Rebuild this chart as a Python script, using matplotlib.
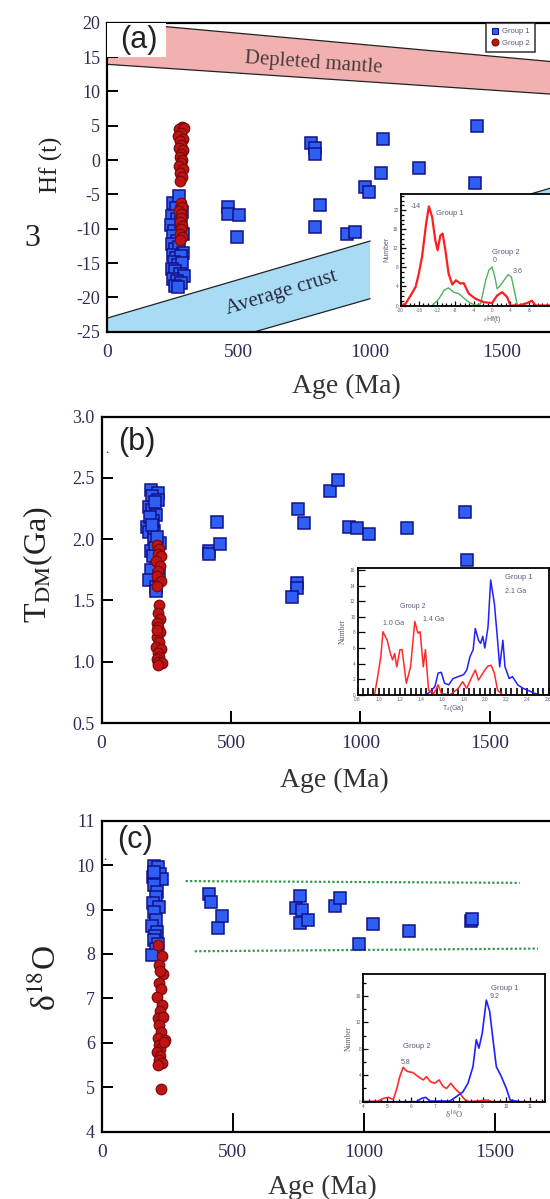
import matplotlib
matplotlib.use("Agg")
import matplotlib.pyplot as plt
from matplotlib.patches import Polygon, Rectangle
from matplotlib.lines import Line2D
from matplotlib.ticker import MultipleLocator

plt.rcParams['font.family'] = ['Liberation Serif', 'DejaVu Serif']
plt.rcParams['mathtext.fontset'] = 'stix'
plt.rcParams['axes.unicode_minus'] = False

# ---------------- data ----------------
# (a) epsilon Hf(t) vs age
a_g1_age = [460, 460, 500, 494, 774, 791, 791, 810, 791, 911, 943, 981, 998, 1041, 1050, 1187, 1405, 1401,
            250, 272, 262, 248, 266, 285, 244, 256, 280, 252, 268, 290, 246, 258, 274, 288, 250, 262, 280,
            254, 270, 286, 248, 260, 276, 291, 252, 266, 280, 258, 270]
a_g1_ehf = [-6.8, -7.8, -8.0, -11.2, 2.5, 1.7, 0.9, -6.5, -9.8, -10.7, -10.5, -4.0, -4.6, -1.9, 3.0, -1.1, 5.0, -3.4,
            -6.2, -5.2, -7.0, -8.1, -8.6, -7.6, -9.4, -10.3, -9.0, -11.0, -11.8, -10.8, -12.3, -12.9, -12.6,
            -13.5, -13.8, -14.2, -14.0, -14.8, -15.3, -15.0, -15.8, -16.2, -16.6, -16.9, -17.3, -17.6, -17.9,
            -18.3, -18.5]
a_g2_age = [285, 275, 292, 280, 270, 288, 278, 283, 272, 290, 280, 276, 286, 282, 274, 288, 279, 284, 277,
            281, 285, 275, 283, 280, 278, 286, 282, 279, 284, 276]
a_g2_ehf = [4.8, 4.5, 4.6, 3.9, 3.5, 3.0, 2.7, 2.2, 1.7, 1.4, 0.9, 0.5, 0.0, -0.4, -0.9, -1.3, -1.9, -2.5,
            -3.1, -6.2, -6.8, -7.4, -7.9, -8.4, -9.0, -9.6, -10.1, -10.7, -11.2, -11.6]

# reference evolution bands (age, eHf) end points
dm_top = [(0, 20.2), (2000, 13.26)]
dm_bot = [(0, 13.94), (2000, 8.80)]
crust_top_slope, crust_top_icpt = 0.01123, -23.03
crust_bot_slope, crust_bot_icpt = 0.01098, -31.18

# (a) inset: eHf(t) distribution
ia_red_x = [-20, -18.9, -17.8, -16.7, -16.0, -15.3, -14.4, -13.8, -13.1, -12.4, -11.9, -11.3, -10.8, -10.2,
            -9.5, -8.7, -7.9, -6.9, -6.2, -5.1, -3.6, -1.8, 0.0, 1.1, 2.2, 3.3, 4.0, 5.8, 7.6, 8.7, 9.5, 12.4, 20]
ia_red_y = [0, 0.35, 2.1, 3.9, 6.7, 10.2, 17.2, 20.8, 18.6, 13.7, 11.6, 14.7, 15.1, 11.6, 6.7, 4.4, 5.3,
            4.6, 4.7, 2.5, 1.4, 0.7, 0.5, 2.1, 2.8, 1.75, 0, 0, 0.5, 1.0, 0, 0, 0]
ia_grn_x = [-13.1, -11.6, -10.5, -9.5, -8.4, -7.3, -6.2, -5.1, -3.6, -2.5, -1.4, -0.7, 0.0, 0.6, 1.1, 1.8,
            2.6, 3.5, 4.2, 5.0, 5.5, 7.0]
ia_grn_y = [0, 1.4, 3.2, 3.7, 2.8, 2.5, 1.6, 0.7, 0, 0.35, 5.3, 7.4, 8.1, 6.0, 3.5, 4.2, 5.3, 6.5, 6.0, 2.5,
            0, 0]
ia_xticks = [-20, -16, -12, -8, -4, 0, 4, 8]
ia_yticks = [0, 4, 8, 12, 16, 20]

# (b) T_DM vs age
b_g1_age = [414, 416, 445, 459, 760, 780, 756, 756, 735, 884, 915, 956, 987, 1031, 1180, 1403, 1410,
            191, 218, 194, 184, 194, 218, 211, 177, 184, 204, 201, 224, 191, 211, 191, 184, 211, 211, 205,
            198, 215, 188, 207, 200, 222, 195]
b_g1_tdm = [1.905, 1.88, 2.14, 1.96, 2.25, 2.13, 1.64, 1.60, 1.53, 2.39, 2.48, 2.10, 2.09, 2.04, 2.09, 2.22,
            1.83, 2.40, 2.38, 2.35, 2.26, 2.24, 2.32, 2.20, 2.10, 2.06, 2.07, 1.99, 1.97, 1.90, 1.82, 1.75,
            1.67, 1.61, 1.58, 2.30, 2.15, 2.02, 2.18, 1.93, 1.86, 1.70, 2.12]
b_g2_age = [215, 222, 218, 228, 212, 225, 220, 216, 230, 214, 221, 218, 226, 213, 219, 224, 216, 222, 211,
            228, 217, 223, 214, 220, 232, 218, 215]
b_g2_tdm = [1.95, 1.92, 1.88, 1.86, 1.82, 1.78, 1.74, 1.70, 1.66, 1.62, 1.46, 1.40, 1.35, 1.32, 1.28, 1.24,
            1.20, 1.16, 1.12, 1.10, 1.07, 1.04, 1.02, 1.00, 0.99, 0.97, 1.26]

# (b) inset: T_DM distribution
ib_blue_x = [1.44, 1.485, 1.53, 1.56, 1.59, 1.62, 1.66, 1.70, 1.75, 1.80, 1.83, 1.86, 1.89, 1.91, 1.94,
             1.96, 1.98, 2.00, 2.03, 2.055, 2.09, 2.12, 2.14, 2.17, 2.19, 2.23, 2.26, 2.31, 2.36, 2.40, 2.47,
             2.53, 2.6]
ib_blue_y = [0, 0.4, 1.1, 2.8, 2.9, 1.5, 1.3, 2.1, 2.35, 2.6, 3.2, 4.9, 5.8, 8.5, 7.0, 6.6, 7.5, 6.0, 8.7,
             14.7, 11.7, 7.0, 3.6, 7.0, 3.6, 2.1, 2.35, 1.3, 0.85, 0.64, 0.2, 0, 0]
ib_red_x = [0.82, 0.96, 0.99, 1.02, 1.04, 1.08, 1.11, 1.13, 1.15, 1.17, 1.20, 1.22, 1.26, 1.30, 1.34, 1.37,
            1.39, 1.42, 1.44, 1.47, 1.52, 1.56, 1.59, 1.67, 1.75, 1.79, 1.83, 1.87, 1.91, 1.94, 2.00, 2.03,
            2.06, 2.09, 2.12, 2.17, 2.44]
ib_red_y = [0, 0, 2.35, 4.9, 8.1, 7.0, 5.3, 4.5, 5.3, 3.6, 5.8, 5.8, 1.5, 3.6, 9.4, 7.9, 8.1, 3.6, 5.8, 0.6,
            0.2, 1.3, 0.2, 0, 0.85, 1.7, 0.85, 2.1, 3.2, 1.9, 3.2, 3.7, 3.8, 2.8, 0.6, 0, 0]
ib_xticks = [0.8, 1.0, 1.2, 1.4, 1.6, 1.8, 2.0, 2.2, 2.4, 2.6]
ib_xlabels = ['0.8', '1.0', '1.2', '1.4', '1.6', '1.8', '2.0', '2.2', '2.4', '2.6']
ib_yticks = [0, 2, 4, 6, 8, 10, 12, 14, 16]

# (c) delta18O vs age
c_g1_age = [411, 415, 444, 459, 756, 740, 763, 756, 787, 890, 911, 980, 1034, 1172, 1410, 1413,
            200, 215, 194, 221, 230, 200, 211, 205, 196, 218, 200, 208, 190, 212, 203, 198, 215, 206, 192, 201]
c_g1_d18o = [9.36, 9.18, 8.58, 8.85, 9.30, 9.03, 8.99, 8.70, 8.76, 9.08, 9.25, 8.22, 8.67, 8.52, 8.73, 8.78,
             9.97, 9.95, 9.74, 9.80, 9.68, 9.55, 9.40, 9.29, 9.15, 9.05, 8.95, 8.76, 8.62, 8.50, 8.40, 8.31,
             8.22, 8.10, 7.98, 9.85]
c_g2_age = [215, 228, 220, 232, 218, 225, 212, 230, 222, 216, 235, 220, 227, 213, 240, 219, 224, 210, 238,
            221, 217, 229, 214, 222, 225]
c_g2_d18o = [8.20, 7.95, 7.75, 7.55, 7.35, 7.20, 7.02, 6.85, 6.72, 6.55, 6.58, 6.40, 6.25, 6.10, 6.05, 5.95,
             5.85, 5.80, 6.02, 5.70, 5.62, 5.55, 5.50, 7.62, 4.95]
c_ref_upper = [(320, 9.64), (1595, 9.60)]
c_ref_lower = [(355, 8.06), (1665, 8.12)]

# (c) inset: delta18O distribution
ic_blue_x = [4, 6.23, 6.44, 6.62, 6.79, 7.63, 7.9, 8.18, 8.39, 8.6, 8.74, 8.85, 8.99, 9.16, 9.3, 9.44, 9.58,
             9.79, 10.0, 10.16, 10.55]
ic_blue_y = [0, 0, 0.5, 0.66, 0.1, 0.1, 0.76, 1.5, 2.8, 5.3, 9.4, 8.1, 10.4, 15.4, 13.7, 9.4, 5.3, 3.8, 2.0,
             0.25, 0]
ic_red_x = [4, 4.63, 4.84, 5.05, 5.26, 5.39, 5.53, 5.67, 5.84, 6.09, 6.3, 6.51, 6.65, 6.82, 7.0, 7.18, 7.35,
            7.49, 7.67, 7.84, 8.04, 8.25, 8.46, 9.16, 9.44, 11.4]
ic_red_y = [0, 0.1, 0.5, 0.66, 0.35, 1.8, 3.8, 5.2, 4.6, 4.4, 3.8, 3.3, 3.8, 3.0, 2.8, 3.3, 2.3, 2.0, 2.8,
            2.0, 1.3, 0.35, 0, 0.25, 0, 0]
ic_xticks = [4, 5, 6, 7, 8, 9, 10, 11]
ic_yticks = [0, 4, 8, 12, 16]

# ---------------- styling ----------------
W, H = 550, 1199
fig = plt.figure(figsize=(W / 100, H / 100), dpi=100)


def rect_px(left, top, right, bottom):
    return [left / W, 1 - bottom / H, (right - left) / W, (bottom - top) / H]


SQ = dict(marker='s', ms=8.2, mfc='#2f5ef2', mec='#12128c', mew=1.1, ls='none')
CI = dict(marker='o', ms=7.6, mfc='#c01414', mec='#7c0a0a', mew=0.9, ls='none')
TICKC = '#2e2e55'
INTXT = '#5f5878'
SANS = ['Liberation Sans']


def style_main(ax, xticklen):
    for s in ax.spines.values():
        s.set_linewidth(1.6)
    ax.tick_params(axis='y', direction='in', length=8, width=1.4, labelsize=13, labelcolor=TICKC, pad=5)
    ax.tick_params(axis='x', direction='in', length=xticklen, width=1.4, labelsize=14, labelcolor=TICKC,
                   pad=9)
    ax.set_xlim(0, 2000)
    ax.set_xticks([0, 500, 1000, 1500])
    ax.set_xlabel('Age (Ma)', fontsize=20, color='#333333')


def style_inset(ax):
    for s in ax.spines.values():
        s.set_linewidth(1.3)
    ax.tick_params(which='both', direction='in', labelsize=3.4, labelcolor=INTXT, pad=1.5, width=0.9,
                   labelfontfamily='Liberation Sans', top=False, right=False)
    ax.tick_params(which='major', length=3.5)
    ax.tick_params(which='minor', length=2.2)


# ======================= panel (a) =======================
axa = fig.add_axes(rect_px(107, 22.7, 107 + 0.263 * 2000, 331.7))
style_main(axa, 0)
axa.set_ylim(-25, 20)
axa.set_yticks(range(-25, 21, 5))

axa.add_patch(Polygon([dm_top[0], dm_top[1], dm_bot[1], dm_bot[0]], closed=True, fc='#f2b1b1', ec='none',
                      zorder=1))
axa.plot([p[0] for p in dm_top], [p[1] for p in dm_top], color='#222222', lw=0.9, zorder=2)
axa.plot([p[0] for p in dm_bot], [p[1] for p in dm_bot], color='#222222', lw=0.9, zorder=2)

for x0, x1 in [(0, 1000), (1120, 2000)]:
    pts = [(x0, crust_top_icpt + crust_top_slope * x0), (x1, crust_top_icpt + crust_top_slope * x1),
           (x1, crust_bot_icpt + crust_bot_slope * x1), (x0, crust_bot_icpt + crust_bot_slope * x0)]
    axa.add_patch(Polygon(pts, closed=True, fc='#a7dcf4', ec='none', zorder=1))
    axa.plot([x0, x1], [pts[0][1], pts[1][1]], color='#222222', lw=0.9, zorder=2)
    axa.plot([x0, x1], [pts[3][1], pts[2][1]], color='#222222', lw=0.9, zorder=2)

axa.text(786, 14.1, 'Depleted mantle', fontsize=15, color='#4a3b3b', rotation=-4, ha='center',
         va='center', zorder=3)
axa.text(665, -19.4, 'Average crust', fontsize=15, color='#2a2a40', rotation=17, ha='center',
         va='center', zorder=3)

axa.add_patch(Rectangle((0, 15.05), 224, 4.95, fc='white', ec='none', zorder=4))
axa.text(120, 17.55, '(a)', fontsize=22, family=SANS, color='#222222', ha='center', va='center', zorder=5)

axa.plot(a_g1_age, a_g1_ehf, zorder=6, **SQ)
axa.plot(a_g2_age, a_g2_ehf, zorder=7, **CI)

axa.set_ylabel('Hf (t)', fontsize=18, color='#222222')
axa.yaxis.set_label_coords(-0.084, 0.54)
fig.text(32 / W, 1 - 238 / H, '3', fontsize=23, color='#222222', ha='center', va='center')
axa.xaxis.set_label_coords(0.455, -0.135)

leg_h = [Line2D([], [], marker='s', ms=5, mfc='#2f5ef2', mec='#12128c', mew=0.8, ls='none'),
         Line2D([], [], marker='o', ms=5, mfc='#c01414', mec='#7c0a0a', mew=0.8, ls='none')]
leg = axa.legend(leg_h, ['Group 1', 'Group 2'], loc='upper left', bbox_to_anchor=(486 / W, 1 - 22.7 / H),
                 bbox_transform=fig.transFigure, frameon=True, fancybox=False, edgecolor='#111111',
                 prop={'family': 'Liberation Sans', 'size': 5.5}, handletextpad=0.4, borderpad=0.7,
                 labelspacing=0.55, handlelength=1.0, borderaxespad=0)
leg.get_frame().set_linewidth(1.2)
for t in leg.get_texts():
    t.set_color(INTXT)
leg.set_zorder(8)

# inset (a)
ia = fig.add_axes(rect_px(400.5, 194, 400.5 + 4.58 * 40, 305.5))
ia.set_xlim(-20, 20)
ia.set_ylim(0, 23.4)
ia.plot(ia_grn_x, ia_grn_y, color='#4fb060', lw=1.0)
ia.plot(ia_red_x, ia_red_y, color='#ff1e1e', lw=1.6)
ia.set_xticks(ia_xticks)
ia.set_yticks(ia_yticks)
ia.xaxis.set_minor_locator(MultipleLocator(1))
ia.yaxis.set_minor_locator(MultipleLocator(1))
style_inset(ia)
ia.set_xlabel(r'$\varepsilon$Hf(t)', fontsize=5, color=INTXT, labelpad=1, family=SANS)
ia.set_ylabel('Number', fontsize=5, color=INTXT, labelpad=2, family=SANS)
ia.text(-16.6, 20.8, '-14', fontsize=5, color=INTXT, ha='center', va='center', family=SANS)
ia.text(-12.3, 19.3, 'Group 1', fontsize=5.5, color=INTXT, ha='left', va='center', family=SANS)
ia.text(3.0, 11.2, 'Group 2', fontsize=5.5, color=INTXT, ha='center', va='center', family=SANS)
ia.text(0.6, 9.5, '0', fontsize=5, color=INTXT, ha='center', va='center', family=SANS)
ia.text(5.6, 7.2, '3.6', fontsize=5, color=INTXT, ha='center', va='center', family=SANS)

# ======================= panel (b) =======================
axb = fig.add_axes(rect_px(101.5, 416.7, 101.5 + 0.259 * 2000, 723))
style_main(axb, 9)
axb.set_ylim(0.5, 3.0)
axb.set_yticks([0.5, 1.0, 1.5, 2.0, 2.5, 3.0])
axb.set_yticklabels(['0.5', '1.0', '1.5', '2.0', '2.5', '3.0'])
axb.plot(b_g1_age, b_g1_tdm, zorder=6, **SQ)
axb.plot(b_g2_age, b_g2_tdm, zorder=7, **CI)
axb.text(137, 2.79, '(b)', fontsize=22, family=SANS, color='#222222', ha='center', va='center')
axb.text(20, 2.73, '.', fontsize=9, color='#222222', ha='center', va='center')
axb.set_ylabel(r'T$_{\rm DM}$(Ga)', fontsize=23, color='#222222')
axb.yaxis.set_label_coords(-0.09, 0.516)
axb.xaxis.set_label_coords(0.45, -0.145)

ib = fig.add_axes(rect_px(357.5, 568.3, 548.5, 695))
ib.set_xlim(0.8, 2.6)
ib.set_ylim(0, 16.2)
ib.plot(ib_blue_x, ib_blue_y, color='#2020ff', lw=1.1)
ib.plot(ib_red_x, ib_red_y, color='#ff2a2a', lw=1.1)
ib.set_xticks(ib_xticks)
ib.set_xticklabels(ib_xlabels)
ib.set_yticks(ib_yticks)
ib.xaxis.set_minor_locator(MultipleLocator(0.05))
style_inset(ib)
ib.tick_params(axis='x', which='both', length=5, width=1.2)
ib.tick_params(axis='y', which='major', length=5)
ib.set_xlabel(r'T$_{\rm d}$(Ga)', fontsize=5, color=INTXT, labelpad=1, family=SANS)
ib.set_ylabel('Number', fontsize=5.5, color=INTXT, labelpad=2)
for x, y, s in [(1.32, 11.3, 'Group 2'), (1.14, 9.2, '1.0 Ga'), (1.52, 9.6, '1.4 Ga')]:
    ib.text(x, y, s, fontsize=5, color=INTXT, ha='center', va='center', family=SANS)
ib.text(2.19, 15.0, 'Group 1', fontsize=5.5, color=INTXT, ha='left', va='center', family=SANS)
ib.text(2.19, 13.2, '2.1 Ga', fontsize=5, color=INTXT, ha='left', va='center', family=SANS)

# ======================= panel (c) =======================
axc = fig.add_axes(rect_px(101.8, 820.7, 101.8 + 0.262 * 2000, 1131.5))
style_main(axc, 14)
axc.set_ylim(4, 11)
axc.set_yticks(range(4, 12))
axc.plot([p[0] for p in c_ref_upper], [p[1] for p in c_ref_upper], color='#2e9a48', lw=1.6, ls=(0, (1, 1)),
         zorder=3)
axc.plot([p[0] for p in c_ref_lower], [p[1] for p in c_ref_lower], color='#2e9a48', lw=1.6, ls=(0, (1, 1)),
         zorder=3)
axc.plot(c_g1_age, c_g1_d18o, zorder=6, **SQ)
axc.plot(c_g2_age, c_g2_d18o, zorder=7, **CI)
axc.text(125, 10.56, '(c)', fontsize=22, family=SANS, color='#222222', ha='center', va='center')
axc.text(10, 10.19, '.', fontsize=9, color='#222222', ha='center', va='center')
axc.set_ylabel('δ$^{18}$O', fontsize=24, color='#222222')
axc.yaxis.set_label_coords(-0.074, 0.494)
axc.xaxis.set_label_coords(0.42, -0.14)

ic = fig.add_axes(rect_px(363.3, 974.3, 544.5, 1101.7))
ic.set_xlim(4, 11.6)
ic.set_ylim(0, 19.3)
ic.plot(ic_red_x, ic_red_y, color='#ff2a2a', lw=1.2)
ic.plot(ic_blue_x, ic_blue_y, color='#2020ff', lw=1.2)
ic.set_xticks(ic_xticks)
ic.set_yticks(ic_yticks)
ic.xaxis.set_minor_locator(MultipleLocator(0.25))
ic.yaxis.set_minor_locator(MultipleLocator(2))
style_inset(ic)
ic.set_xlabel('δ$^{18}$O', fontsize=6, color=INTXT, labelpad=0)
ic.set_ylabel('Number', fontsize=5.5, color=INTXT, labelpad=2)
ic.text(9.93, 17.1, 'Group 1', fontsize=5.5, color=INTXT, ha='center', va='center', family=SANS)
ic.text(9.5, 15.9, '9.2', fontsize=5, color=INTXT, ha='center', va='center', family=SANS)
ic.text(6.26, 8.3, 'Group 2', fontsize=5.5, color=INTXT, ha='center', va='center', family=SANS)
ic.text(5.79, 5.9, '5.8', fontsize=5, color=INTXT, ha='center', va='center', family=SANS)

fig.savefig('out.png', dpi=100)
